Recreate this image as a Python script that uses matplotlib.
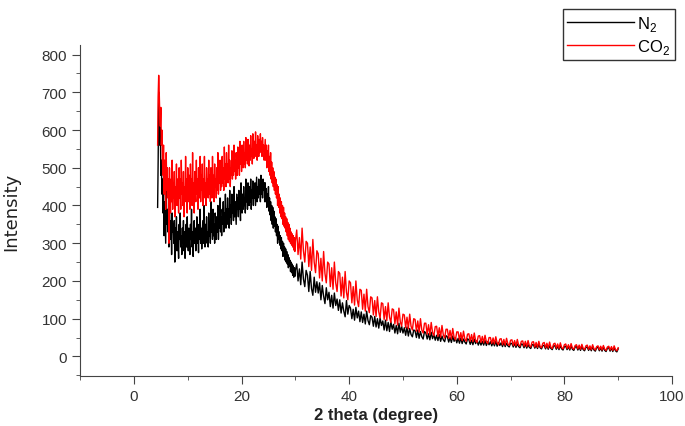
import numpy as np
import matplotlib
matplotlib.use("Agg")
import matplotlib.pyplot as plt
from matplotlib.ticker import MultipleLocator

# scan grid: 0.1 deg over the hump, 0.25 deg over the tail
x_hump = np.round(np.arange(4.4, 30.001, 0.1), 2)
x_tail = np.round(np.arange(30.25, 90.001, 0.25), 2)

n2_hump = [395, 520, 700, 640, 560, 610, 480, 520, 430, 470,
           380, 450, 320, 410, 360, 300, 440, 350, 390, 330,
           370, 290, 400, 340, 310, 360, 270, 380, 330, 350,
           300, 360, 250, 340, 310, 370, 280, 330, 300, 260,
           350, 310, 380, 290, 320, 270, 340, 300, 360, 280,
           330, 260, 310, 350, 290, 370, 310, 280, 340, 300,
           270, 350, 310, 390, 290, 330, 265, 320, 360, 300,
           340, 280, 310, 370, 300, 330, 275, 350, 310, 390,
           300, 340, 285, 320, 360, 300, 400, 320, 290, 350,
           310, 370, 300, 330, 290, 380, 320, 350, 300, 410,
           330, 360, 310, 390, 320, 350, 300, 380, 340, 310,
           370, 330, 400, 310, 360, 340, 420, 330, 370, 320,
           390, 350, 410, 330, 380, 360, 430, 340, 390, 350,
           420, 360, 390, 340, 440, 370, 400, 350, 430, 380,
           400, 360, 450, 370, 410, 380, 350, 430, 390, 420,
           370, 440, 390, 410, 360, 460, 400, 380, 430, 390,
           450, 400, 420, 380, 470, 410, 440, 390, 460, 420,
           400, 450, 410, 470, 390, 440, 420, 465, 400, 450,
           420, 460, 400, 440, 475, 410, 450, 420, 470, 430,
           455, 410, 480, 430, 450, 420, 470, 440, 460, 410,
           460, 410, 445, 395, 430, 400, 450, 385, 420, 375,
           410, 360, 400, 350, 395, 340, 385, 345, 370, 330,
           365, 320, 350, 300, 345, 310, 330, 295, 320, 285,
           315, 280, 305, 265, 300, 270, 290, 255, 285, 250,
           278, 245, 270, 235, 262, 240, 255, 225, 250, 222,
           245, 215, 240, 210, 235, 212, 228]
n2_tail = [245, 200, 232, 190, 250, 205, 185, 228,
           215, 172, 225, 180, 162, 210, 170, 198,
           168, 195, 150, 188, 160, 140, 182, 150,
           170, 132, 162, 128, 168, 135, 152, 122,
           150, 115, 142, 120, 105, 148, 112, 135,
           128, 100, 125, 96, 130, 102, 120, 92,
           118, 90, 112, 86, 120, 95, 84, 108,
           104, 80, 106, 78, 100, 75, 102, 82,
           94, 70, 96, 68, 90, 66, 92, 72,
           85, 62, 82, 60, 88, 64, 80, 62,
           76, 56, 78, 54, 74, 58, 52, 70,
           68, 50, 70, 48, 66, 52, 46, 66,
           62, 46, 60, 44, 64, 47, 58, 43,
           56, 42, 58, 40, 54, 44, 39, 55,
           52, 38, 50, 37, 54, 40, 49, 36,
           48, 35, 49, 34, 46, 38, 33, 47,
           44, 32, 43, 31, 46, 34, 42, 30,
           41, 30, 40, 30, 42, 29, 39, 31,
           39, 28, 38, 28, 40, 27, 37, 29,
           36, 26, 37, 26, 35, 28, 25, 35,
           34, 25, 35, 24, 33, 26, 23, 33,
           32, 23, 33, 22, 31, 24, 21, 31,
           31, 22, 30, 21, 32, 23, 20, 29,
           29, 20, 30, 19, 28, 21, 18, 28,
           28, 19, 27, 18, 29, 20, 17, 26,
           27, 18, 26, 17, 28, 19, 16, 25,
           26, 17, 25, 16, 27, 18, 15, 24,
           25, 16, 24, 15, 26, 17, 14, 23,
           24, 15, 23, 14, 25, 16, 13, 22,
           23, 14, 22, 13, 24, 15, 12, 20]

co2_hump = [560, 690, 745, 700, 640, 610, 660, 560, 600, 520,
            480, 560, 430, 520, 470, 390, 540, 440, 500, 420,
            470, 300, 500, 430, 380, 470, 410, 520, 390, 460,
            420, 490, 370, 450, 410, 510, 400, 470, 430, 380,
            500, 420, 470, 390, 520, 430, 460, 400, 490, 370,
            450, 410, 530, 420, 470, 380, 500, 440, 410, 480,
            390, 510, 430, 470, 400, 540, 420, 460, 380, 490,
            440, 410, 520, 430, 470, 390, 500, 450, 420, 530,
            410, 480, 440, 510, 400, 470, 430, 530, 420, 460,
            400, 500, 440, 470, 420, 520, 430, 480, 410, 500,
            450, 420, 530, 440, 480, 410, 510, 450, 470, 420,
            500, 440, 540, 430, 480, 460, 520, 440, 490, 450,
            530, 460, 500, 440, 555, 470, 510, 450, 540, 480,
            510, 460, 560, 470, 520, 450, 500, 480, 545, 470,
            510, 480, 560, 490, 520, 470, 540, 500, 480, 555,
            500, 530, 480, 570, 510, 540, 490, 560, 520, 500,
            570, 510, 540, 500, 580, 520, 550, 510, 575, 530,
            505, 560, 520, 585, 530, 550, 510, 590, 540, 525,
            570, 530, 595, 540, 560, 520, 585, 550, 530, 575,
            540, 590, 550, 570, 530, 580, 545, 560, 520, 550,
            575, 520, 560, 500, 545, 510, 560, 490, 530, 480,
            540, 470, 515, 460, 500, 450, 490, 440, 475, 430,
            470, 420, 455, 400, 450, 395, 430, 380, 420, 370,
            410, 365, 400, 350, 395, 345, 380, 340, 370, 330,
            365, 320, 355, 310, 350, 305, 340, 300, 330, 295,
            325, 290, 320, 282, 315, 278, 305]
co2_tail = [335, 270, 315, 258, 340, 280, 250, 305,
            300, 238, 290, 228, 310, 250, 222, 280,
            272, 208, 260, 200, 278, 220, 195, 250,
            245, 185, 235, 178, 250, 195, 172, 225,
            220, 160, 210, 155, 225, 170, 150, 200,
            195, 142, 185, 136, 200, 150, 132, 178,
            175, 125, 165, 120, 178, 132, 116, 158,
            155, 110, 148, 106, 158, 118, 102, 142,
            140, 98, 132, 95, 142, 104, 90, 126,
            124, 86, 118, 83, 128, 92, 80, 112,
            110, 76, 104, 73, 112, 80, 70, 100,
            98, 67, 94, 64, 100, 70, 62, 88,
            88, 59, 84, 57, 90, 63, 55, 79,
            80, 53, 76, 51, 82, 57, 49, 72,
            72, 48, 69, 46, 74, 51, 44, 65,
            65, 44, 63, 42, 67, 46, 40, 59,
            60, 40, 58, 39, 62, 42, 37, 54,
            55, 37, 53, 36, 56, 39, 34, 50,
            50, 34, 49, 33, 52, 36, 31, 46,
            47, 31, 45, 30, 48, 33, 29, 43,
            44, 29, 42, 28, 45, 30, 27, 40,
            41, 27, 40, 26, 42, 28, 25, 38,
            39, 25, 37, 24, 40, 26, 23, 35,
            37, 23, 35, 22, 38, 24, 21, 33,
            35, 22, 33, 21, 36, 23, 20, 31,
            33, 21, 31, 20, 34, 22, 19, 29,
            31, 20, 30, 19, 32, 21, 18, 28,
            30, 19, 28, 18, 31, 20, 17, 26,
            28, 18, 27, 17, 29, 19, 16, 25,
            27, 17, 26, 16, 28, 18, 15, 23]

x = np.concatenate([x_hump, x_tail])
n2 = np.array(n2_hump + n2_tail)
co2 = np.array(co2_hump + co2_tail)

plt.rcParams['font.family'] = ['Liberation Sans', 'DejaVu Sans']
plt.rcParams['mathtext.fontset'] = 'custom'
plt.rcParams['mathtext.rm'] = 'Liberation Sans'

fig = plt.figure(figsize=(6.85, 4.27), dpi=100)
ax = fig.add_axes([0.117, 0.117, 0.864, 0.775])

l1, = ax.plot(x, n2, color="black", lw=1.0, label="N$_2$")
l2, = ax.plot(x, co2, color="red", lw=1.0, label="CO$_2$")

ax.set_xlim(-10, 100)
ax.set_ylim(-52, 825)
ax.xaxis.set_major_locator(MultipleLocator(20))
ax.xaxis.set_minor_locator(MultipleLocator(10))
ax.yaxis.set_major_locator(MultipleLocator(100))
ax.yaxis.set_minor_locator(MultipleLocator(50))
ax.spines['top'].set_visible(False)
ax.spines['right'].set_visible(False)
for s in ('left', 'bottom'):
    ax.spines[s].set_color('#444444')
ax.tick_params(which='major', direction='out', length=6, color='#444444',
               labelsize=11, labelcolor='#333333')
ax.tick_params(which='minor', direction='out', length=3, color='#444444')

ax.set_xlabel("2 theta (degree)", fontsize=12, fontweight='bold', color='#222222', labelpad=3)
ax.set_ylabel("Intensity", fontsize=13, color='#222222', labelpad=15,
              family=['Liberation Sans Narrow', 'DejaVu Sans'])

leg = fig.legend(handles=[l1, l2], loc='upper right', bbox_to_anchor=(0.997, 0.995),
                 fontsize=12, frameon=True, fancybox=False, handlelength=4.0,
                 borderpad=0.25, labelspacing=0.25, handletextpad=0.2)
leg.get_frame().set_edgecolor('black')
leg.get_frame().set_linewidth(1.0)
for h in leg.get_lines():
    h.set_linewidth(1.0)

fig.savefig("out.png", dpi=100)
